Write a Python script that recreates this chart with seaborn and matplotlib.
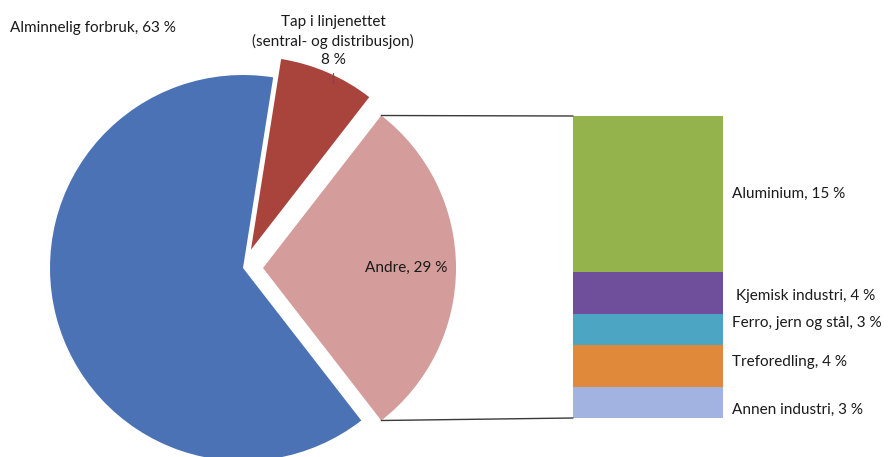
import matplotlib
matplotlib.use("Agg")
import matplotlib.pyplot as plt
from matplotlib.patches import ConnectionPatch
import seaborn as sns
import numpy as np

# Electricity use shares (%)
pie_labels = ["Andre", "Tap i linjenettet", "Alminnelig forbruk"]
pie_values = [29, 8, 63]
pie_colors = ["#D49C9A", "#A9443C", "#4A72B5"]

bar_labels = ["Aluminium", "Kjemisk industri", "Ferro, jern og stål", "Treforedling", "Annen industri"]
bar_values = [15, 4, 3, 4, 3]
bar_colors = ["#95B34C", "#6F4E9C", "#4DA5C4", "#E0893A", "#A3B3E1"]

sns.set_style("white")
plt.rcParams["font.family"] = ["Lato", "DejaVu Sans"]
TXT = "#1a1a1a"
FS = 11

W, H = 889, 457
fig = plt.figure(figsize=(W / 100, H / 100), dpi=100)

# Pie axes laid out in pixel units (y upwards)
ax = fig.add_axes([0, 0, 1, 1])
cx, cy, R = 243, H - 268, 193
half = pie_values[0] / sum(pie_values) * 360 / 2
# explode offsets are in the same (pixel) data units as the radius
wedges, _ = ax.pie(pie_values, colors=pie_colors, startangle=-half,
                   center=(cx, cy), radius=R, explode=[20, 20, 0],
                   wedgeprops=dict(linewidth=0), frame=True)
ax.set_xlim(0, W)
ax.set_ylim(0, H)
ax.set_aspect("equal")
ax.axis("off")

ax.text(10, H - 28, f"{pie_labels[2]}, {pie_values[2]} %", fontsize=FS, color=TXT,
        ha="left", va="center")
ax.text(333, H - 41, f"{pie_labels[1]}\n(sentral- og distribusjon)\n{pie_values[1]} %",
        fontsize=FS, color=TXT, ha="center", va="center", linespacing=1.42)
ax.plot([333, 333], [H - 73, H - 83], color="#555555", lw=0.8)
ax.text(365, H - 268, f"{pie_labels[0]}, {pie_values[0]} %", fontsize=FS, color=TXT,
        ha="left", va="center")

# Stacked bar breaking down the "Andre" slice
bax = fig.add_axes([573 / W, (H - 418) / H, 150 / W, 302 / H])
total = sum(bar_values)
tops = total - np.concatenate([[0], np.cumsum(bar_values)[:-1]])
for top, col in zip(tops, bar_colors):
    sns.barplot(x=[0], y=[top], color=col, width=1.0, saturation=1,
                linewidth=0, ax=bax)
bax.set_xlim(-0.5, 0.5)
bax.set_ylim(0, total)
bax.axis("off")

offsets = [0, -0.3, 0.6, 0.4, -0.7]
for lab, val, top, off in zip(bar_labels, bar_values, tops, offsets):
    bax.text(0.56 if lab != "Kjemisk industri" else 0.59, top - val / 2 + off,
             f"{lab}, {val} %", fontsize=FS, color=TXT, ha="left", va="center",
             transform=bax.transData, clip_on=False)

# Connector lines from the Andre wedge to the bar
w = wedges[0]
wx, wy = w.center
for ang, ybar in [(w.theta2, total), (w.theta1, 0)]:
    px = wx + w.r * np.cos(np.radians(ang))
    py = wy + w.r * np.sin(np.radians(ang))
    con = ConnectionPatch(xyA=(-0.5, ybar), coordsA=bax.transData,
                          xyB=(px, py), coordsB=ax.transData,
                          color="#3a3a3a", linewidth=1.0)
    fig.add_artist(con)

fig.savefig("out.png", dpi=100, facecolor="white")
